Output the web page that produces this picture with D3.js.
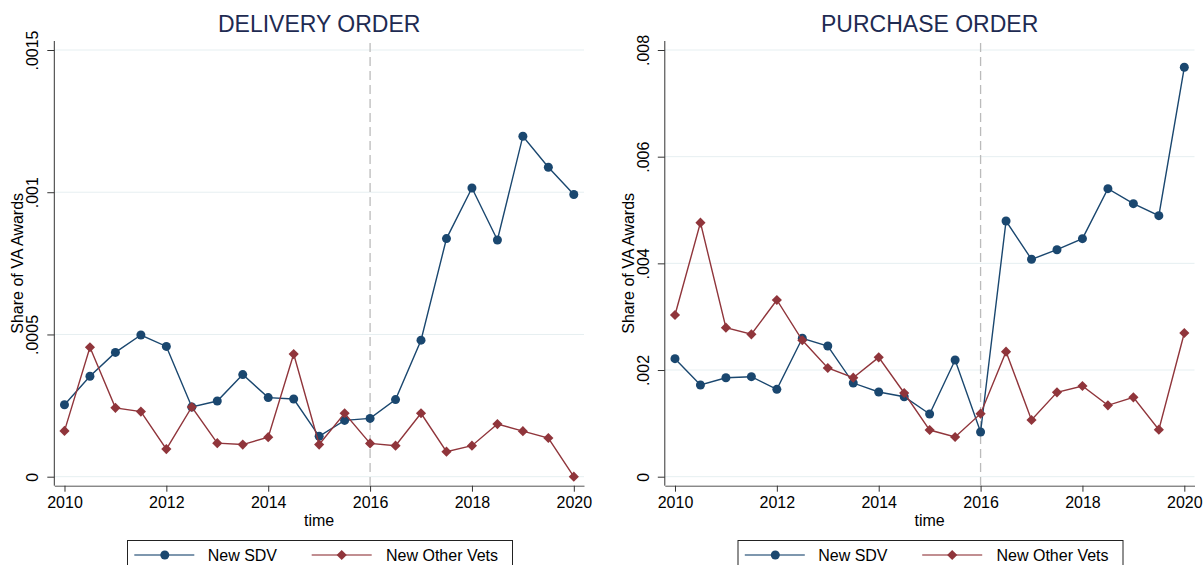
<!DOCTYPE html>
<html>
<head>
  <meta charset="utf-8">
  <title>VA awards share</title>
  <style>
    body { margin: 0; background: #fff; }
    svg { display: block; font-family: "Liberation Sans", Arial, sans-serif; }
  </style>
</head>
<body>
  <svg id="main" width="1203" height="565"></svg>

  <script src="https://cdn.jsdelivr.net/npm/d3@7/dist/d3.min.js"></script>
  <script>
    // half-year periods
    const time = [2010, 2010.5, 2011, 2011.5, 2012, 2012.5, 2013, 2013.5, 2014, 2014.5,
      2015, 2015.5, 2016, 2016.5, 2017, 2017.5, 2018, 2018.5, 2019, 2019.5, 2020]

    const deliverySdv = [0.000253, 0.000353, 0.000437, 0.000498, 0.000458, 0.000245, 0.000266,
      0.000359, 0.000278, 0.000273, 0.000142, 0.000198, 0.000205, 0.000271, 0.000480,
      0.000837, 0.001015, 0.000832, 0.001197, 0.001088, 0.000992]
    const deliveryOther = [0.000161, 0.000455, 0.000242, 0.000229, 0.000097, 0.000245, 0.000118,
      0.000113, 0.000139, 0.000431, 0.000113, 0.000223, 0.000117, 0.000109, 0.000223,
      0.000088, 0.000109, 0.000185, 0.000160, 0.000136, 0.000000]

    const purchaseSdv = [0.002213, 0.001719, 0.001856, 0.001875, 0.001638, 0.002595, 0.002450,
      0.001756, 0.001588, 0.001500, 0.001175, 0.002188, 0.000838, 0.004794, 0.004076,
      0.004256, 0.004463, 0.005400, 0.005119, 0.004894, 0.007676]
    const purchaseOther = [0.003031, 0.004763, 0.002794, 0.002670, 0.003313, 0.002558, 0.002038,
      0.001856, 0.002238, 0.001569, 0.000875, 0.000744, 0.001181, 0.002344, 0.001063,
      0.001582, 0.001700, 0.001338, 0.001488, 0.000881, 0.002694]

    const xTicks = [2010, 2012, 2014, 2016, 2018, 2020]
    const deliveryTicks = [0, 0.0005, 0.001, 0.0015]
    const deliveryTickLabels = ['0', '.0005', '.001', '.0015']
    const purchaseTicks = [0, 0.002, 0.004, 0.006, 0.008]
    const purchaseTickLabels = ['0', '.002', '.004', '.006', '.008']

    const seriesNames = ['New SDV', 'New Other Vets']
    const cutYear = 2016

    const colors = { sdv: '#1a476f', other: '#90353b', grid: '#e6eff1', title: '#1e2b52' }

    const svg = d3.select('#main')

    // plot box shared by both panels (left panel coordinates)
    const box = { left: 54.3, right: 584, top: 41, bottom: 485.7, yTop: 50, yZero: 476.7 }

    function drawPanel(opt) {
      const g = svg.append('g').attr('transform', `translate(${opt.dx},0)`)

      const x = d3.scaleLinear()
        .domain([2009.8, 2020.2])
        .range([box.left, box.right])

      const y = d3.scaleLinear()
        .domain([0, opt.yMax])
        .range([box.yZero, box.yTop])

      // gridlines
      g.append('g').selectAll('line')
        .data(opt.ticks)
        .join('line')
        .attr('x1', box.left).attr('x2', box.right)
        .attr('y1', d => y(d)).attr('y2', d => y(d))
        .attr('stroke', colors.grid)
        .attr('stroke-width', 1)

      // title
      g.append('text')
        .text(opt.title)
        .attr('x', (box.left + box.right) / 2)
        .attr('y', 31.5)
        .attr('text-anchor', 'middle')
        .attr('font-size', '23px')
        .attr('fill', colors.title)

      // axes
      const yAxis = d3.axisLeft(y)
        .tickValues(opt.ticks)
        .tickFormat((d, i) => opt.tickLabels[i])
        .tickSize(7)
        .tickSizeOuter(0)

      const ya = g.append('g')
        .attr('transform', `translate(${box.left},0)`)
        .call(yAxis)
      ya.select('.domain').attr('d', `M0,${box.top}V${box.bottom}`).attr('stroke', '#333')
      ya.selectAll('.tick line').attr('stroke', '#333')
      ya.selectAll('.tick text')
        .attr('x', null).attr('dy', null)
        .attr('transform', 'translate(-16,0) rotate(-90)')
        .attr('text-anchor', 'middle')
        .attr('font-size', '16px')
        .attr('fill', '#000')

      const xAxis = d3.axisBottom(x)
        .tickValues(xTicks)
        .tickFormat(d3.format('d'))
        .tickSize(6)
        .tickSizeOuter(0)

      const xa = g.append('g')
        .attr('transform', `translate(0,${box.bottom})`)
        .call(xAxis)
      xa.select('.domain').attr('stroke', '#555')
      xa.selectAll('.tick line').attr('stroke', '#333')
      xa.selectAll('.tick text')
        .attr('y', 22).attr('dy', null)
        .attr('font-size', '16px')
        .attr('fill', '#000')
      svg.selectAll('.domain').attr('stroke-width', 1)

      // axis titles
      g.append('text')
        .text('time')
        .attr('x', (box.left + box.right) / 2)
        .attr('y', 526)
        .attr('text-anchor', 'middle')
        .attr('font-size', '16px')

      g.append('text')
        .text('Share of VA Awards')
        .attr('transform', `translate(23,${(box.top + box.bottom) / 2}) rotate(-90)`)
        .attr('text-anchor', 'middle')
        .attr('font-size', '16px')

      // reference line
      g.append('line')
        .attr('x1', x(cutYear)).attr('x2', x(cutYear))
        .attr('y1', 43).attr('y2', box.bottom)
        .attr('stroke', '#bbbbbb')
        .attr('stroke-width', 1.3)
        .attr('stroke-dasharray', '9,5')

      const line = d3.line()
        .x((d, i) => x(time[i]))
        .y(d => y(d))

      const diamond = d3.symbol().type(d3.symbolDiamond2).size(66)

      // SDV
      g.append('path')
        .datum(opt.sdv)
        .attr('fill', 'none')
        .attr('stroke', colors.sdv)
        .attr('stroke-width', 1.4)
        .attr('d', line)
      g.append('g').selectAll('circle')
        .data(opt.sdv)
        .join('circle')
        .attr('cx', (d, i) => x(time[i]))
        .attr('cy', d => y(d))
        .attr('r', 4.5)
        .attr('fill', colors.sdv)

      // other vets
      g.append('path')
        .datum(opt.other)
        .attr('fill', 'none')
        .attr('stroke', colors.other)
        .attr('stroke-width', 1.4)
        .attr('d', line)
      g.append('g').selectAll('path')
        .data(opt.other)
        .join('path')
        .attr('d', diamond)
        .attr('transform', (d, i) => `translate(${x(time[i])},${y(d)})`)
        .attr('fill', colors.other)

      // legend
      const lg = g.append('g')
      lg.append('rect')
        .attr('x', 127.5).attr('y', 540.5)
        .attr('width', 385).attr('height', 40)
        .attr('fill', '#fff')
        .attr('stroke', '#222')
        .attr('stroke-width', 1)

      const items = [
        { name: seriesNames[0], color: colors.sdv, x0: 134.3, kind: 'circle', tx: 207.7 },
        { name: seriesNames[1], color: colors.other, x0: 311.7, kind: 'diamond', tx: 386 }
      ]
      items.forEach(it => {
        lg.append('line')
          .attr('x1', it.x0).attr('x2', it.x0 + 60)
          .attr('y1', 555).attr('y2', 555)
          .attr('stroke', it.color)
          .attr('stroke-opacity', 0.75)
          .attr('stroke-width', 1.6)
        if (it.kind === 'circle') {
          lg.append('circle')
            .attr('cx', it.x0 + 30.5).attr('cy', 555).attr('r', 4.5)
            .attr('fill', it.color)
        } else {
          lg.append('path')
            .attr('d', diamond)
            .attr('transform', `translate(${it.x0 + 30},555)`)
            .attr('fill', it.color)
        }
        lg.append('text')
          .text(it.name)
          .attr('x', it.tx).attr('y', 561)
          .attr('font-size', '16px')
      })
    }

    drawPanel({
      dx: 0,
      title: 'DELIVERY ORDER',
      yMax: 0.0015,
      ticks: deliveryTicks,
      tickLabels: deliveryTickLabels,
      sdv: deliverySdv,
      other: deliveryOther
    })

    drawPanel({
      dx: 610.5,
      title: 'PURCHASE ORDER',
      yMax: 0.008,
      ticks: purchaseTicks,
      tickLabels: purchaseTickLabels,
      sdv: purchaseSdv,
      other: purchaseOther
    })
  </script>
</body>
</html>
